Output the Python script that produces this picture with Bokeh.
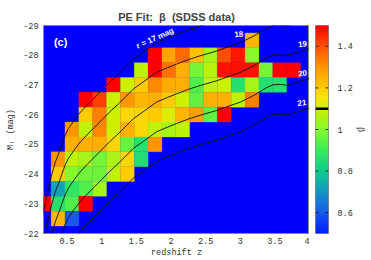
import numpy as np
from bokeh.plotting import figure
from bokeh.models import Range1d, FixedTicker, LinearColorMapper, ColumnDataSource
from bokeh.layouts import row
from bokeh.core.properties import value
from bokeh.embed import file_html
from bokeh.resources import INLINE

# ---------------- data ----------------
z_first_edge = 0.07          # left edge of first redshift bin
z_bin = 0.2                  # redshift bin width
m_bin = 0.5                  # magnitude bin height

row_M = [-28.5, -28.0, -27.5, -27.0, -26.5, -26.0, -25.5, -25.0, -24.5, -24.0, -23.5, -23.0, -22.5]
row_first_bin = [15, 8, 7, 5, 3, 3, 2, 2, 1, 1, 1, 0, 1]
row_beta = [
    [1.24],
    [1.5, 1.27, 1.36, 1.22, 1.05, 1.4, 1.47, 1.0],
    [1.08, 1.5, 1.35, 1.25, 0.98, 1.07, 1.48, 1.48, 1.48, 0.98, 1.5, 1.5],
    [1.5, 1.1, 1.2, 1.32, 1.26, 1.25, 0.93, 1.08, 1.1, 0.86, 1.05, 0.86, 0.86],
    [1.5, 1.42, 1.1, 1.3, 1.24, 1.25, 1.2, 1.1, 0.95, 1.25, 1.25, 1.08, 1.33],
    [1.2, 1.33, 1.1, 1.18, 1.18, 1.2, 1.12, 1.24, 1.28, 0.95, 1.5],
    [1.3, 1.08, 1.32, 1.1, 1.25, 1.18, 1.08, 1.05, 1.08],
    [1.25, 1.25, 1.25, 1.18, 0.96, 0.86, 1.3],
    [1.3, 1.08, 1.05, 0.98, 1.05, 1.18, 0.85],
    [1.2, 1.0, 0.97, 0.97, 1.08, 1.2],
    [0.72, 0.88, 0.93, 1.04],
    [1.5, 0.86, 0.93, 1.5],
    [1.24, 0.6],
]

# apparent-magnitude limit curves (r = 17 ... 21), M_i versus z
curve_z = [0.16, 0.185, 0.2, 0.25, 0.281, 0.3, 0.328, 0.35, 0.4, 0.425, 0.472, 0.52, 0.6, 0.664, 0.7,
           0.8, 0.9, 1.0, 1.12, 1.25, 1.46, 1.6, 1.79, 1.95, 2.08, 2.25, 2.42, 2.66, 2.85, 3.0, 3.2,
           3.38, 3.47, 3.56, 3.67, 3.81, 3.96, 4.0]
curve_r17 = [-22.65, -23.0, -23.2, -23.72, -24.0, -24.15, -24.38, -24.52, -24.82, -25.0, -25.3, -25.53,
             -25.8, -26.0, -26.1, -26.35, -26.58, -26.82, -27.1, -27.38, -27.87, -28.1, -28.42, -28.58,
             -28.7, -28.85, -28.98, -29.14, -29.3, -29.42, -29.65, -29.91, -30.0, -30.02, -29.99, -30.08,
             -30.19, -30.22]
curve_r18 = [-21.65, -22.0, -22.2, -22.72, -23.0, -23.15, -23.38, -23.52, -23.82, -24.0, -24.3, -24.53,
             -24.8, -25.0, -25.1, -25.35, -25.58, -25.82, -26.1, -26.38, -26.87, -27.1, -27.42, -27.58,
             -27.7, -27.85, -27.98, -28.14, -28.3, -28.42, -28.65, -28.91, -29.0, -29.02, -28.99, -29.08,
             -29.19, -29.22]
curve_r19 = [-20.65, -21.0, -21.2, -21.72, -22.0, -22.15, -22.38, -22.52, -22.82, -23.0, -23.3, -23.53,
             -23.8, -24.0, -24.1, -24.35, -24.58, -24.82, -25.1, -25.38, -25.87, -26.1, -26.42, -26.58,
             -26.7, -26.85, -26.98, -27.14, -27.3, -27.42, -27.65, -27.91, -28.0, -28.02, -27.99, -28.08,
             -28.19, -28.22]
curve_r20 = [-19.65, -20.0, -20.2, -20.72, -21.0, -21.15, -21.38, -21.52, -21.82, -22.0, -22.3, -22.53,
             -22.8, -23.0, -23.1, -23.35, -23.58, -23.82, -24.1, -24.38, -24.87, -25.1, -25.42, -25.58,
             -25.7, -25.85, -25.98, -26.14, -26.3, -26.42, -26.65, -26.91, -27.0, -27.02, -26.99, -27.08,
             -27.19, -27.22]
curve_r21 = [-18.65, -19.0, -19.2, -19.72, -20.0, -20.15, -20.38, -20.52, -20.82, -21.0, -21.3, -21.53,
             -21.8, -22.0, -22.1, -22.35, -22.58, -22.82, -23.1, -23.38, -23.87, -24.1, -24.42, -24.58,
             -24.7, -24.85, -24.98, -25.14, -25.3, -25.42, -25.65, -25.91, -26.0, -26.02, -25.99, -26.08,
             -26.19, -26.22]

x_ticks = [0.5, 1, 1.5, 2, 2.5, 3, 3.5, 4]
x_tick_labels = ["0.5", "1", "1.5", "2", "2.5", "3", "3.5", "4"]
y_ticks = [-29, -28, -27, -26, -25, -24, -23, -22]
y_tick_labels = ["-29", "-28", "-27", "-26", "-25", "-24", "-23", "-22"]
cb_ticks = [0.6, 0.8, 1.0, 1.2, 1.4]
cb_tick_labels = ["0.6", "0.8", "1", "1.2", "1.4"]
beta_low, beta_high = 0.5, 1.5
beta_marker = 1.1

curve_labels = ["r = 17 mag", "18", "19", "20", "21"]
curve_label_z = [1.77, 2.98, 3.90, 3.90, 3.89]
curve_label_M = [-28.57, -28.70, -28.37, -27.38, -26.39]

# ---------------- colours ----------------
stops = [(0.5, (0, 30, 255)), (0.6, (25, 90, 235)), (0.7, (20, 150, 195)), (0.8, (15, 205, 140)),
         (0.9, (55, 235, 90)), (1.0, (135, 248, 45)), (1.1, (205, 240, 0)), (1.15, (245, 230, 10)),
         (1.2, (252, 205, 0)), (1.3, (255, 150, 0)), (1.4, (255, 80, 0)), (1.5, (255, 0, 0))]
sv = np.array([s[0] for s in stops])
sc = np.array([s[1] for s in stops], dtype=float)
grid = np.linspace(beta_low, beta_high, 256)
palette = []
for g in grid:
    r = np.interp(g, sv, sc[:, 0]); gg = np.interp(g, sv, sc[:, 1]); b = np.interp(g, sv, sc[:, 2])
    palette.append("#%02x%02x%02x" % (int(round(r)), int(round(gg)), int(round(b))))
mapper = LinearColorMapper(palette=palette, low=beta_low, high=beta_high)

# ---------------- cells ----------------
left, right, top, bottom, beta = [], [], [], [], []
for M, k0, vals in zip(row_M, row_first_bin, row_beta):
    for i, v in enumerate(vals):
        k = k0 + i
        left.append(z_first_edge + k * z_bin)
        right.append(z_first_edge + (k + 1) * z_bin)
        bottom.append(M + m_bin / 2)
        top.append(M - m_bin / 2)
        beta.append(v)
cells = ColumnDataSource(dict(left=left, right=right, top=top, bottom=bottom, beta=beta))

MONO = "Liberation Mono"
TXT = "#333333"
FS = "8.5px"

p = figure(width=309, height=260, output_backend="svg", toolbar_location=None,
           x_range=Range1d(0.16, 4.0), y_range=Range1d(-22, -29),
           min_border_left=43, min_border_right=0, min_border_top=25, min_border_bottom=24)
p.background_fill_color = "#0000ff"
p.border_fill_color = "white"
p.outline_line_color = "#8a8a8a"
p.grid.visible = False

p.title.text = "PE Fit:\u00a0\u00a0\u03b2\u00a0\u00a0(SDSS data)"
p.title.align = "center"
p.title.text_font = "Liberation Sans"
p.title.text_font_style = "bold"
p.title.text_font_size = "11px"
p.title.standoff = 6

p.quad(left="left", right="right", top="top", bottom="bottom", source=cells,
       fill_color={"field": "beta", "transform": mapper},
       line_color={"field": "beta", "transform": mapper}, line_width=0.3)

for cm in [curve_r17, curve_r18, curve_r19, curve_r20, curve_r21]:
    p.line(curve_z, cm, line_color="#101010", line_width=0.9)

p.text(x=[0.408], y=[-28.44], text=["(c)"], text_color="white", text_font=value("Liberation Sans"),
       text_font_style="bold", text_font_size=value("11px"), text_align="center", text_baseline="middle")
p.text(x=curve_label_z[:1], y=curve_label_M[:1], text=curve_labels[:1], text_color="white",
       text_font=value("Liberation Sans"), text_font_style="bold", text_font_size=value("8px"),
       text_align="center", text_baseline="middle", angle=0.42)
p.text(x=curve_label_z[1:], y=curve_label_M[1:], text=curve_labels[1:], text_color="white",
       text_font=value("Liberation Sans"), text_font_style="bold", text_font_size=value("8px"),
       text_align="center", text_baseline="middle", angle=0.1)

for ax in (p.xaxis[0], p.yaxis[0]):
    ax.axis_line_color = None
    ax.major_tick_line_color = None
    ax.minor_tick_line_color = None
    ax.major_tick_out = 0
    ax.major_tick_in = 0
    ax.minor_tick_out = 0
    ax.minor_tick_in = 0
    ax.major_label_text_font = MONO
    ax.major_label_text_font_size = FS
    ax.major_label_text_color = TXT
    ax.axis_label_text_font = MONO
    ax.axis_label_text_font_size = FS
    ax.axis_label_text_color = TXT
    ax.axis_label_text_font_style = "normal"
p.xaxis.ticker = FixedTicker(ticks=x_ticks)
p.xaxis.major_label_overrides = {t: l for t, l in zip(x_ticks, x_tick_labels)}
p.xaxis.major_label_standoff = 4
p.xaxis.axis_label = "redshift z"
p.xaxis.axis_label_standoff = 1
p.yaxis.ticker = FixedTicker(ticks=y_ticks)
p.yaxis.major_label_overrides = {t: l for t, l in zip(y_ticks, y_tick_labels)}
p.yaxis.major_label_standoff = 5
p.yaxis.axis_label = "M\u1d62 (mag)"
p.yaxis.axis_label_standoff = 4

# ---------------- colour bar ----------------
c = figure(width=62, height=260, output_backend="svg", toolbar_location=None,
           x_range=Range1d(0, 1), y_range=Range1d(beta_low, beta_high), y_axis_location="right",
           min_border_left=6, min_border_right=43, min_border_top=25, min_border_bottom=24)
c.grid.visible = False
c.xaxis.visible = False
c.outline_line_color = "#8a8a8a"
c.image(image=[np.linspace(beta_low, beta_high, 256).reshape(-1, 1)], x=0, y=beta_low, dw=1,
        dh=beta_high - beta_low, color_mapper=mapper)
c.segment(x0=[0] * len(cb_ticks), x1=[0.22] * len(cb_ticks), y0=cb_ticks, y1=cb_ticks, line_color="#202020", line_width=1)
c.segment(x0=[0.78] * len(cb_ticks), x1=[1] * len(cb_ticks), y0=cb_ticks, y1=cb_ticks, line_color="#202020", line_width=1)
c.segment(x0=[0], x1=[1], y0=[beta_marker], y1=[beta_marker], line_color="black", line_width=2.5)
ya = c.yaxis[0]
ya.ticker = FixedTicker(ticks=cb_ticks)
ya.major_label_overrides = {t: l for t, l in zip(cb_ticks, cb_tick_labels)}
ya.axis_line_color = None
ya.major_tick_line_color = None
ya.minor_tick_line_color = None
ya.major_tick_out = 0
ya.major_tick_in = 0
ya.minor_tick_out = 0
ya.minor_tick_in = 0
ya.major_label_text_font = MONO
ya.major_label_text_font_size = FS
ya.major_label_text_color = TXT
ya.major_label_standoff = 9
ya.axis_label = "\u03b2"
ya.axis_label_text_font = "Liberation Serif"
ya.axis_label_text_font_size = "10px"
ya.axis_label_text_font_style = "normal"
ya.axis_label_text_color = TXT
ya.axis_label_standoff = 0

layout = row(p, c, spacing=0)
open("out.html", "w").write(file_html(layout, INLINE))
